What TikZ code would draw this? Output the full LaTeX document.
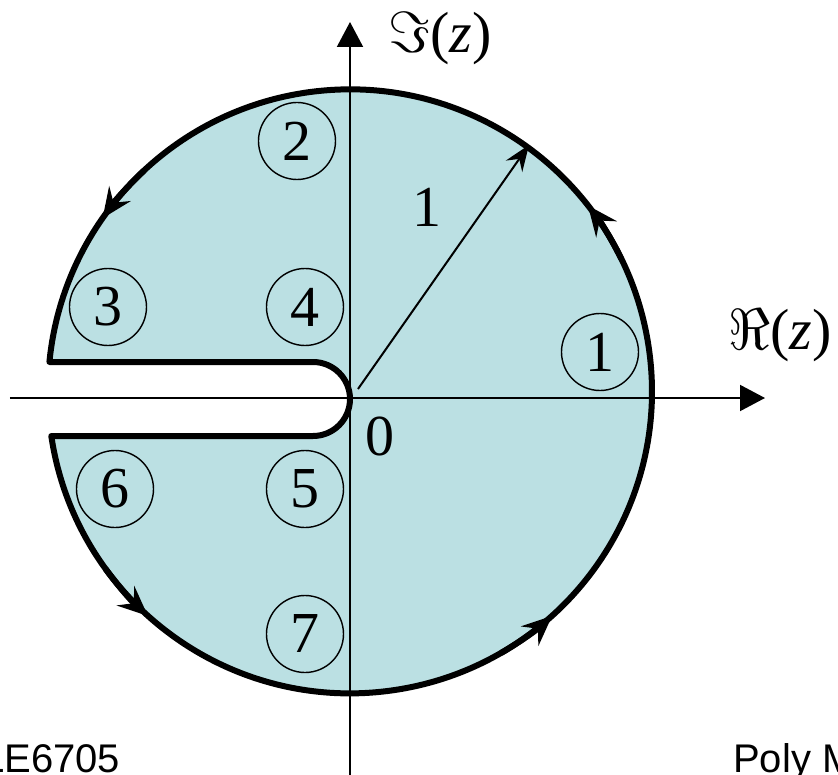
\documentclass[tikz,border=0pt]{standalone}
\usepackage{fix-cm}
\usepackage{fontspec}
\setmainfont{Liberation Serif}
\newfontfamily\footfont{Liberation Sans}
\usetikzlibrary{arrows.meta}
\definecolor{diskfill}{RGB}{187,224,227}

\begin{document}
\begin{tikzpicture}[x=1pt,y=1pt,contour/.style={line width=6pt,line join=round},axis/.style={line width=2pt,-{Triangle[length=25pt,width=26pt]}},flow/.style={line width=6pt,-{Stealth[length=30pt,width=26pt,inset=11pt]}},radial/.style={line width=2pt,-{Stealth[length=26pt,width=20pt,inset=9pt]}},region/.style={circle,draw,line width=1.4pt,minimum size=77pt,inner sep=0pt,font=\fontsize{58}{60}\selectfont},lbl/.style={inner sep=0pt,font=\fontsize{58}{60}\selectfont},foot/.style={inner sep=0pt,anchor=base west,font=\footfont\fontsize{40}{44}\selectfont}]
\useasboundingbox (-350,-376) rectangle (488,398);
\coordinate (O) at (0,0);
\coordinate (xl) at (-340,0);
\coordinate (xr) at (415,0);
\coordinate (yb) at (0,-380);
\coordinate (yt) at (0,376);
\coordinate (r0) at (8,9);
\coordinate (r1) at (179,253);
\fill[diskfill] (-300.6,36) -- (-37,36) arc[start angle=90,end angle=-90,radius=37] -- (-298.7,-38) arc[start angle=188.5,end angle=534.4,radius=302] -- cycle;
\draw[axis] (xl) -- (xr);
\draw[axis] (yb) -- (yt);
\draw[contour] (-300.6,36) -- (-37,36) arc[start angle=90,end angle=-90,radius=37] -- (-298.7,-38) arc[start angle=188.5,end angle=534.4,radius=302] -- cycle;
\foreach \a/\b in {26/38,133/145,216/228,300/312}
  \draw[flow,shift={(0,6.5)}] (\a:302) arc[start angle=\a,end angle=\b,radius=302];
\draw[radial] (r0) -- (r1);
\node[lbl] (im) at (90,359) {$\Im$(\textit{z})};
\node[lbl] (re) at (430,62) {$\Re$(\textit{z})};
\node[lbl] (one) at (77,191) {1};
\node[lbl] (zero) at (30,-38) {0};
\node[region] (n1) at (250,46) {1};
\node[region] (n2) at (-53,257) {2};
\node[region] (n3) at (-242,91) {3};
\node[region] (n4) at (-45,91) {4};
\node[region] (n5) at (-45,-91) {5};
\node[region] (n6) at (-235,-91) {6};
\node[region] (n7) at (-45,-236) {7};
\node[foot] (course) at (-368,-374) {LE6705};
\node[foot] (school) at (383,-374) {Poly M};
\end{tikzpicture}
\end{document}
